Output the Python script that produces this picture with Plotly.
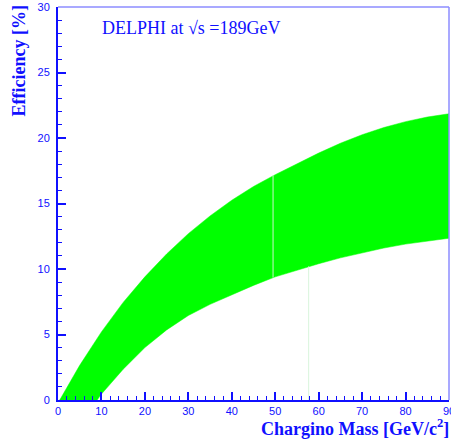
import plotly.graph_objects as go

# Efficiency band edges (chargino mass in GeV/c^2, efficiency in %)
upper_mass = [0.4, 5, 10, 15, 20, 25, 30, 35, 40, 45, 50, 55, 60, 65, 70, 75, 80, 85, 90]
upper_eff = [0.0, 2.65, 5.2, 7.45, 9.4, 11.15, 12.7, 14.05, 15.25, 16.3, 17.2, 18.05, 18.85,
             19.6, 20.25, 20.8, 21.25, 21.6, 21.85]

lower_mass = [9.0, 10, 15, 20, 25, 30, 35, 40, 45, 50, 55, 60, 65, 70, 75, 80, 85, 90]
lower_eff = [0.0, 0.45, 2.35, 4.0, 5.35, 6.45, 7.3, 8.05, 8.75, 9.4, 9.9, 10.4, 10.85,
             11.25, 11.6, 11.9, 12.15, 12.35]

# faint seams in the band
seam_mass = [49.5, 57.7]
seam_top = [17.15, 10.2]
seam_bottom = [9.35, 0.0]

x_ticks = [0, 10, 20, 30, 40, 50, 60, 70, 80, 90]

BLUE = "#1010ff"
GREEN = "#00ff00"

band_x = upper_mass + lower_mass[::-1] + [upper_mass[0]]
band_y = upper_eff + lower_eff[::-1] + [upper_eff[0]]

fig = go.Figure()
fig.add_trace(go.Scatter(
    x=band_x, y=band_y, mode="lines", fill="toself",
    fillcolor=GREEN, line=dict(color=GREEN, width=0.5),
    hoverinfo="skip", showlegend=False,
))
seam_colors = ["#c8f5c8", "#d8f5dc"]
for m, t, b, c in zip(seam_mass, seam_top, seam_bottom, seam_colors):
    fig.add_trace(go.Scatter(
        x=[m, m], y=[b, t], mode="lines", line=dict(color=c, width=1),
        hoverinfo="skip", showlegend=False,
    ))

tick_font = dict(family="Liberation Sans, Arial, sans-serif", size=11, color=BLUE)
title_font = dict(family="Liberation Serif, Times New Roman, serif", size=18, color=BLUE)

fig.update_layout(
    width=451, height=440,
    margin=dict(l=58, r=2, t=7, b=40),
    paper_bgcolor="white", plot_bgcolor="white",
    xaxis=dict(
        range=[0, 90], showgrid=False, zeroline=False, automargin=False,
        showline=True, linecolor=BLUE, linewidth=2,
        ticks="inside", ticklen=8, tickwidth=1.5, tickcolor=BLUE,
        tickmode="array", tickvals=x_ticks, ticktext=[str(v) for v in x_ticks],
        ticklabeloverflow="allow", tickfont=tick_font,
        minor=dict(ticks="inside", ticklen=4, tickmode="linear", tick0=0, dtick=2,
                   tickcolor=BLUE, tickwidth=1),
    ),
    yaxis=dict(
        range=[0, 30], showgrid=False, zeroline=False, automargin=False,
        showline=True, linecolor=BLUE, linewidth=2,
        ticks="inside", ticklen=8, tickwidth=1.5, tickcolor=BLUE,
        dtick=5, tick0=0, tickfont=tick_font, ticklabelstandoff=4,
        minor=dict(ticks="inside", ticklen=4, dtick=1, tickcolor=BLUE, tickwidth=1),
    ),
    shapes=[
        dict(type="line", xref="paper", yref="paper", x0=0, x1=1, y0=1, y1=1,
             line=dict(color="#8c8cff", width=1.5)),
        dict(type="line", xref="paper", yref="paper", x0=1, x1=1, y0=0, y1=1,
             line=dict(color="#8c8cff", width=1.5)),
    ],
    annotations=[
        dict(text="DELPHI at √s =189GeV", xref="paper", yref="paper",
             x=0.107, y=0.947, xanchor="left", yanchor="middle", showarrow=False,
             font=dict(family="Liberation Serif, Times New Roman, serif", size=18, color=BLUE)),
        dict(text="<b>Efficiency [%]</b>", xref="paper", yref="paper",
             x=0, y=1, xshift=-40, yshift=3, xanchor="center", yanchor="top",
             textangle=-90, showarrow=False, font=title_font),
        dict(text="<b>Chargino Mass [GeV/c<sup>2</sup>]</b>", xref="paper", yref="paper",
             x=1, y=0, xshift=2, yshift=-27, xanchor="right", yanchor="middle",
             showarrow=False, font=title_font),
    ],
)

fig.write_html("out.html")
